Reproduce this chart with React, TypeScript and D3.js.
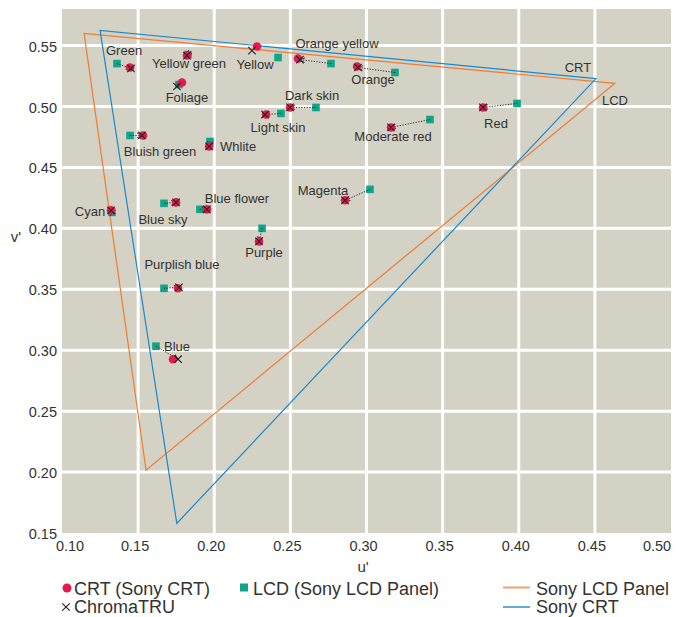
import React, { useEffect, useRef } from 'react'
import * as d3 from 'd3'

// colour checker patches, CIE 1976 u'v'
const patches = ['Green', 'Yellow green', 'Foliage', 'Yellow', 'Orange yellow', 'Orange', 'Dark skin', 'Light skin', 'Red', 'Moderate red', 'Bluish green', 'Whlite', 'Cyan', 'Blue sky', 'Blue flower', 'Purple', 'Magenta', 'Purplish blue', 'Blue']
const crtU = [0.1447, 0.1821, 0.1788, 0.2281, 0.2550, 0.2938, 0.2498, 0.2340, 0.3765, 0.3161, 0.1532, 0.1966, 0.1322, 0.1749, 0.1952, 0.2294, 0.2859, 0.1762, 0.1729]
const crtV = [0.5320, 0.5418, 0.5197, 0.5492, 0.5393, 0.5328, 0.4992, 0.4934, 0.4992, 0.4828, 0.4762, 0.4672, 0.4148, 0.4213, 0.4156, 0.3893, 0.4230, 0.3508, 0.2926]
const lcdU = [0.1361, 0.1827, 0.1768, 0.2419, 0.2767, 0.3187, 0.2668, 0.2438, 0.3989, 0.3417, 0.1447, 0.1972, 0.1328, 0.1670, 0.1906, 0.2314, 0.3023, 0.1670, 0.1617]
const lcdV = [0.5352, 0.5426, 0.5180, 0.5402, 0.5352, 0.5279, 0.4992, 0.4943, 0.5025, 0.4893, 0.4762, 0.4713, 0.4131, 0.4205, 0.4156, 0.4000, 0.4320, 0.3508, 0.3033]
const chromaU = [0.1453, 0.1821, 0.1755, 0.2248, 0.2563, 0.2944, 0.2498, 0.2334, 0.3765, 0.3161, 0.1525, 0.1966, 0.1322, 0.1749, 0.1952, 0.2294, 0.2859, 0.1768, 0.1762]
const chromaV = [0.5312, 0.5418, 0.5164, 0.5459, 0.5385, 0.5320, 0.4992, 0.4934, 0.4992, 0.4828, 0.4762, 0.4672, 0.4148, 0.4213, 0.4156, 0.3893, 0.4230, 0.3516, 0.2926]
const unlinked = ['Yellow']

// gamut triangles (R, G, B primaries)
const crtGamut: [number, number][] = [[0.4507, 0.5229], [0.1250, 0.5625], [0.1754, 0.1579]]
const lcdGamut: [number, number][] = [[0.4632, 0.5190], [0.1145, 0.5600], [0.1552, 0.2016]]

const xTicks = [0.10, 0.15, 0.20, 0.25, 0.30, 0.35, 0.40, 0.45, 0.50]
const yTicks = [0.15, 0.20, 0.25, 0.30, 0.35, 0.40, 0.45, 0.50, 0.55]

// label placement relative to the CRT marker (px)
const labelDx = [-6, 2, 5, -2, 39, 16, 22, 12, 13, 2, 17, 29, -21, -13, 30, 5, -22, 4, 4]
const labelDy = [-17, 8, 15, 18, -15, 13, -12, 13, 16, 9, 16, 0, 1, 17, -11, 11, -10, -24, -13]

const W = 688
const H = 617
const FONT = '"Liberation Sans", Arial, Helvetica, sans-serif'

export default function App() {
    const svgRef = useRef<SVGSVGElement>(null)

    useEffect(() => {
        if (!svgRef.current) return
        const svg = d3.select(svgRef.current)
        svg.selectAll("*").remove()

        const left = 62, right = 671, top = 9, bottom = 533
        const x = d3.scaleLinear().domain([0.10, 0.50]).range([left, right])
        const y = d3.scaleLinear().domain([0.15, 0.58]).range([bottom, top])

        svg.append("defs").append("marker")
            .attr("id", "arr")
            .attr("viewBox", "0 0 6 6")
            .attr("refX", 5).attr("refY", 3)
            .attr("markerWidth", 6).attr("markerHeight", 6)
            .attr("orient", "auto")
            .append("path")
            .attr("d", "M0,0.5 L5,3 L0,5.5")
            .attr("fill", "none")
            .attr("stroke", "#222")
            .attr("stroke-width", 0.9)

        // plot background + white grid
        svg.append("rect")
            .attr("x", left).attr("y", top)
            .attr("width", right - left).attr("height", bottom - top)
            .attr("fill", "#d4d2c4")

        svg.append("g").selectAll("line")
            .data(xTicks.slice(1, -1))
            .enter().append("line")
            .attr("x1", d => x(d)).attr("x2", d => x(d))
            .attr("y1", top).attr("y2", bottom)
            .attr("stroke", "#fff").attr("stroke-width", 3)

        svg.append("g").selectAll("line")
            .data(yTicks.slice(1))
            .enter().append("line")
            .attr("x1", left).attr("x2", right)
            .attr("y1", d => y(d)).attr("y2", d => y(d))
            .attr("stroke", "#fff").attr("stroke-width", 3)

        // tick labels
        svg.append("g").selectAll("text")
            .data(xTicks)
            .enter().append("text")
            .attr("x", d => Math.min(Math.max(x(d) - 3, left + 8), right - 14))
            .attr("y", 551)
            .attr("text-anchor", "middle")
            .style("font-family", FONT).style("font-size", "14.5px").style("fill", "#333")
            .text(d => d.toFixed(2))

        svg.append("g").selectAll("text")
            .data(yTicks)
            .enter().append("text")
            .attr("x", 57)
            .attr("y", d => y(d) + 1)
            .attr("dy", "0.35em")
            .attr("text-anchor", "end")
            .style("font-family", FONT).style("font-size", "14.5px").style("fill", "#333")
            .text(d => d.toFixed(2))

        svg.append("text").attr("x", 363).attr("y", 572).attr("text-anchor", "middle")
            .style("font-family", FONT).style("font-size", "15px").style("fill", "#333").text("u'")
        svg.append("text").attr("x", 16).attr("y", 242).attr("text-anchor", "middle")
            .style("font-family", FONT).style("font-size", "15px").style("fill", "#333").text("v'")

        // gamut triangles
        const tri = d3.line<[number, number]>().x(d => x(d[0])).y(d => y(d[1])).curve(d3.curveLinearClosed)
        svg.append("path").attr("d", tri(lcdGamut)).attr("fill", "none").attr("stroke", "#f07b32").attr("stroke-width", 1.2)
        svg.append("path").attr("d", tri(crtGamut)).attr("fill", "none").attr("stroke", "#1a88cf").attr("stroke-width", 1.2)

        svg.append("text").attr("x", x(crtGamut[0][0]) - 18).attr("y", y(crtGamut[0][1]) - 7)
            .attr("text-anchor", "middle")
            .style("font-family", FONT).style("font-size", "13px").style("fill", "#333").text("CRT")
        svg.append("text").attr("x", x(lcdGamut[0][0]) + 0).attr("y", y(lcdGamut[0][1]) + 22)
            .attr("text-anchor", "middle")
            .style("font-family", FONT).style("font-size", "13px").style("fill", "#333").text("LCD")

        const idx = d3.range(patches.length)

        // LCD squares
        svg.append("g").selectAll("rect")
            .data(idx)
            .enter().append("rect")
            .attr("x", i => x(lcdU[i]) - 3.8).attr("y", i => y(lcdV[i]) - 3.8)
            .attr("width", 7.6).attr("height", 7.6)
            .attr("fill", "#0fa58a")

        // dotted shift lines LCD -> ChromaTRU
        svg.append("g").selectAll("line")
            .data(idx.filter(i => !unlinked.includes(patches[i])))
            .enter().append("line")
            .attr("x1", i => x(lcdU[i])).attr("y1", i => y(lcdV[i]))
            .attr("x2", i => x(chromaU[i])).attr("y2", i => y(chromaV[i]))
            .attr("stroke", "#222").attr("stroke-width", 1)
            .attr("stroke-dasharray", "1.2,1.5")
            .attr("marker-end", "url(#arr)")

        // CRT circles
        svg.append("g").selectAll("circle")
            .data(idx)
            .enter().append("circle")
            .attr("cx", i => x(crtU[i])).attr("cy", i => y(crtV[i]))
            .attr("r", 4.3)
            .attr("fill", "#e5194f")

        // ChromaTRU crosses
        const cross = d3.symbol().type(d3.symbolX).size(38)
        svg.append("g").selectAll("path")
            .data(idx)
            .enter().append("path")
            .attr("transform", i => `translate(${x(chromaU[i])},${y(chromaV[i])})`)
            .attr("d", cross)
            .attr("fill", "none")
            .attr("stroke", "#222").attr("stroke-width", 1.1)

        // patch labels
        svg.append("g").selectAll("text")
            .data(idx)
            .enter().append("text")
            .attr("x", i => x(crtU[i]) + labelDx[i])
            .attr("y", i => y(crtV[i]) + labelDy[i])
            .attr("dy", "0.35em")
            .attr("text-anchor", "middle")
            .style("font-family", FONT).style("font-size", "13px").style("fill", "#333")
            .text(i => patches[i])

        // legend
        const lg = svg.append("g").style("font-family", FONT).style("font-size", "18px").style("fill", "#333")
        lg.append("circle").attr("cx", 67).attr("cy", 588).attr("r", 4.5).attr("fill", "#e5194f")
        lg.append("text").attr("x", 74).attr("y", 594.5).text("CRT (Sony CRT)")
        lg.append("path").attr("transform", "translate(66,607)").attr("d", cross)
            .attr("fill", "none").attr("stroke", "#222").attr("stroke-width", 1.1)
        lg.append("text").attr("x", 74).attr("y", 613).text("ChromaTRU")
        lg.append("rect").attr("x", 240).attr("y", 583.5).attr("width", 8).attr("height", 8).attr("fill", "#0fa58a")
        lg.append("text").attr("x", 253).attr("y", 594.5).text("LCD (Sony LCD Panel)")
        lg.append("line").attr("x1", 503).attr("x2", 530).attr("y1", 587.5).attr("y2", 587.5)
            .attr("stroke", "#f5a06c").attr("stroke-width", 2)
        lg.append("text").attr("x", 536).attr("y", 594.5).text("Sony LCD Panel")
        lg.append("line").attr("x1", 503).attr("x2", 530).attr("y1", 607).attr("y2", 607)
            .attr("stroke", "#62aadd").attr("stroke-width", 2)
        lg.append("text").attr("x", 536).attr("y", 613).text("Sony CRT")
    }, [])

    return <svg ref={svgRef} width={W} height={H} style={{ position: 'absolute', left: 0, top: 0, background: '#fff' }} />
}
